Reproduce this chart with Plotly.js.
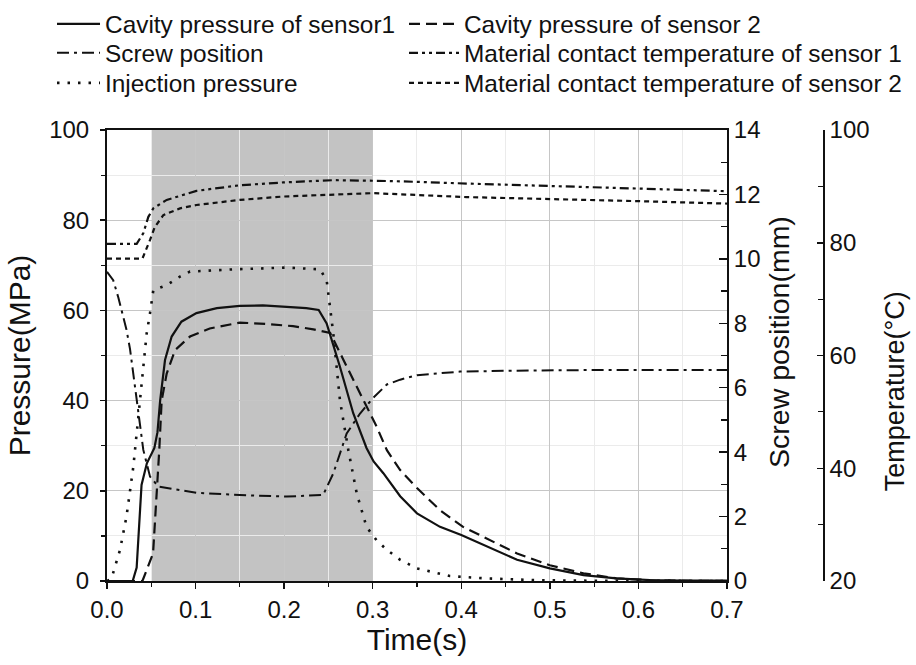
<!DOCTYPE html>
<html>
<head>
<meta charset="utf-8">
<script src="https://cdn.plot.ly/plotly-3.0.1.min.js"></script>
<style>html,body{margin:0;padding:0;background:#fff;}#chart{width:916px;height:665px;}</style>
</head>
<body>
<div id="chart"></div>
<script>
// ---- Data ----
const sensor1Time = [0, 0.029, 0.0335, 0.037, 0.039, 0.045, 0.0535, 0.057, 0.060, 0.0655, 0.073, 0.084, 0.101, 0.124, 0.150, 0.176, 0.199, 0.225, 0.239, 0.248, 0.263, 0.278, 0.293, 0.301, 0.312, 0.331, 0.350, 0.376, 0.400, 0.429, 0.463, 0.500, 0.538, 0.575, 0.613, 0.65, 0.70];
const sensor1Pressure = [0, 0, 3, 15, 21.3, 26.1, 29.5, 33, 40, 49, 54.2, 57.5, 59.4, 60.5, 61, 61.1, 60.8, 60.5, 60.1, 57.1, 47.5, 37.2, 29.5, 26.5, 23.9, 18.8, 15, 12, 10.2, 7.6, 4.7, 2.8, 1.3, 0.6, 0.2, 0.1, 0.1];

const sensor2Time = [0, 0.040, 0.052, 0.056, 0.059, 0.0617, 0.0674, 0.0768, 0.0937, 0.116, 0.150, 0.180, 0.210, 0.233, 0.252, 0.267, 0.289, 0.3045, 0.316, 0.331, 0.350, 0.376, 0.402, 0.432, 0.463, 0.500, 0.538, 0.575, 0.62, 0.70];
const sensor2Pressure = [0, 0, 6.1, 18, 29, 40, 46, 51.2, 54.2, 56, 57.3, 57, 56.5, 55.8, 55, 49, 40.1, 34.2, 29, 24.6, 20.6, 15.7, 12, 9.1, 6.1, 3.5, 1.7, 0.6, 0.1, 0];

const screwTime = [0, 0.007, 0.0128, 0.0166, 0.022, 0.026, 0.0335, 0.041, 0.0486, 0.058, 0.101, 0.150, 0.203, 0.244, 0.2555, 0.2706, 0.2857, 0.30, 0.316, 0.331, 0.35, 0.3986, 0.4625, 0.55, 0.70];
const screwPosition = [9.6, 9.34, 8.8, 8.4, 7.8, 7.2, 5.62, 4.07, 3.24, 2.93, 2.74, 2.67, 2.62, 2.67, 3.34, 4.58, 5.2, 5.67, 6.1, 6.25, 6.39, 6.5, 6.53, 6.55, 6.55];

const injTime = [0, 0.005, 0.0147, 0.022, 0.0297, 0.0373, 0.0448, 0.0486, 0.0523, 0.0674, 0.0824, 0.0937, 0.1426, 0.2029, 0.2405, 0.248, 0.2518, 0.2555, 0.263, 0.2725, 0.282, 0.293, 0.3045, 0.316, 0.331, 0.35, 0.387, 0.425, 0.481, 0.55, 0.70];
const injPressure = [0, 0.5, 6.9, 14.3, 25.3, 40.1, 54.9, 59.4, 64.5, 65.6, 67.5, 68.6, 69.1, 69.5, 69.1, 66.7, 60.1, 54.9, 40.1, 29, 19.4, 12, 9.0, 6.9, 4.7, 2.8, 1.1, 0.6, 0.2, 0.05, 0];

const temp1Time = [0, 0.0335, 0.041, 0.0467, 0.0523, 0.0674, 0.101, 0.150, 0.199, 0.2555, 0.30, 0.331, 0.406, 0.50, 0.594, 0.70];
const temp1Value = [79.8, 79.8, 81.7, 84.6, 86.1, 87.6, 89.2, 90.2, 90.7, 91.1, 91.0, 90.9, 90.5, 90.1, 89.65, 89.15];

const temp2Time = [0, 0.040, 0.0486, 0.054, 0.0636, 0.0824, 0.101, 0.150, 0.199, 0.2555, 0.30, 0.406, 0.50, 0.594, 0.70];
const temp2Value = [77.2, 77.2, 80.5, 82.8, 84.9, 86.1, 86.7, 87.6, 88.2, 88.6, 88.8, 88.1, 87.8, 87.4, 86.95];

const holdingPhase = [0.05, 0.3];   // shaded time window (s)

const names = {
  s1: 'Cavity pressure of sensor1',
  s2: 'Cavity pressure of sensor 2',
  screw: 'Screw position',
  t1: 'Material contact temperature of sensor 1',
  inj: 'Injection pressure',
  t2: 'Material contact temperature of sensor 2'
};
const axisTitles = {x: 'Time(s)', y: 'Pressure(MPa)', y2: 'Screw position(mm)', y3: 'Temperature(°C)'};

// ---- Styling ----
const INK = '#111111';
const FONT = '"Liberation Sans", Arial, Helvetica, sans-serif';

const traces = [
  {x: sensor1Time, y: sensor1Pressure, name: names.s1, yaxis: 'y', legend: 'legend',
   line: {color: INK, width: 2.2}},
  {x: sensor2Time, y: sensor2Pressure, name: names.s2, yaxis: 'y', legend: 'legend2',
   line: {color: INK, width: 2.2, dash: '11px,6px'}},
  {x: screwTime, y: screwPosition, name: names.screw, yaxis: 'y2', legend: 'legend3',
   line: {color: INK, width: 2, dash: '12px,5px,3px,5px'}},
  {x: temp1Time, y: temp1Value, name: names.t1, yaxis: 'y3', legend: 'legend4',
   line: {color: INK, width: 2.2, dash: '9px,4px,3px,4px,3px,4px'}},
  {x: injTime, y: injPressure, name: names.inj, yaxis: 'y', legend: 'legend5',
   line: {color: INK, width: 2.6, dash: '2.5px,8px'}},
  {x: temp2Time, y: temp2Value, name: names.t2, yaxis: 'y3', legend: 'legend6',
   line: {color: INK, width: 2.2, dash: '5px,4px'}}
].map(t => Object.assign({type: 'scatter', mode: 'lines', xaxis: 'x', hoverinfo: 'skip'}, t));

const majorGrid = '#c6c6c6';
const minorGrid = '#ebebeb';

function legendAt(x, y, itemwidth) {
  return {x: x, y: y, xanchor: 'left', yanchor: 'middle', orientation: 'v',
          font: {size: 24.4}, itemwidth: itemwidth, bgcolor: 'rgba(0,0,0,0)', borderwidth: 0};
}
const col1X = -0.0768, col2X = 0.4148;
const rowY = [1.235, 1.1707, 1.1042];

const layout = {
  width: 916, height: 665,
  margin: {l: 107, r: 93, t: 130, b: 84, autoexpand: false},
  paper_bgcolor: '#ffffff', plot_bgcolor: '#ffffff',
  font: {family: FONT, color: INK, size: 24},
  showlegend: true,
  xaxis: {
    domain: [0, 0.8659], range: [0, 0.7], tick0: 0, dtick: 0.1, tickformat: '.1f',
    ticks: 'outside', ticklen: 6, tickwidth: 1.5, tickcolor: INK,
    showline: true, linewidth: 2, linecolor: INK, mirror: true,
    showgrid: true, gridcolor: majorGrid, gridwidth: 1, zeroline: false,
    minor: {dtick: 0.05, ticks: 'outside', ticklen: 4, tickwidth: 1.2, tickcolor: INK, showgrid: true, gridcolor: minorGrid},
    tickfont: {size: 24},
    title: {text: axisTitles.x, font: {size: 30}, standoff: 6}
  },
  yaxis: {
    range: [0, 100], tick0: 0, dtick: 20,
    ticks: 'outside', ticklen: 5, tickwidth: 1.5, tickcolor: INK, ticklabelstandoff: 6,
    showline: true, linewidth: 2, linecolor: INK,
    showgrid: true, gridcolor: majorGrid, zeroline: false,
    minor: {dtick: 10, ticks: 'outside', ticklen: 4, tickwidth: 1.2, tickcolor: INK, showgrid: true, gridcolor: minorGrid},
    tickfont: {size: 24},
    title: {text: axisTitles.y, font: {size: 30}, standoff: 10}
  },
  yaxis2: {
    overlaying: 'y', side: 'right', anchor: 'x',
    range: [0, 14], tick0: 0, dtick: 2,
    ticks: 'inside', ticklen: 8, tickwidth: 1.5, tickcolor: INK,
    showline: true, linewidth: 2, linecolor: INK,
    showgrid: false, zeroline: false,
    minor: {dtick: 1, ticks: 'inside', ticklen: 6, tickwidth: 1.2, tickcolor: INK},
    tickfont: {size: 24}
  },
  yaxis3: {
    overlaying: 'y', side: 'right', anchor: 'free', position: 1,
    range: [20, 100], tick0: 20, dtick: 20,
    ticks: 'inside', ticklen: 6, tickwidth: 1.5, tickcolor: INK,
    showline: true, linewidth: 1.8, linecolor: INK,
    showgrid: false, zeroline: false,
    minor: {dtick: 10, ticks: 'inside', ticklen: 5, tickwidth: 1.2, tickcolor: INK},
    tickfont: {size: 24}
  },
  legend:  legendAt(col1X, rowY[0], 43),
  legend2: legendAt(col2X, rowY[0], 50),
  legend3: legendAt(col1X, rowY[1], 43),
  legend4: legendAt(col2X, rowY[1], 50),
  legend5: legendAt(col1X, rowY[2], 43),
  legend6: legendAt(col2X, rowY[2], 50),
  annotations: [
    {text: axisTitles.y2, xref: 'paper', yref: 'paper', x: 0.9385, y: 0.53,
     xanchor: 'center', yanchor: 'middle', textangle: -90, showarrow: false, font: {size: 28.5}},
    {text: axisTitles.y3, xref: 'paper', yref: 'paper', x: 1.1006, y: 0.421,
     xanchor: 'center', yanchor: 'middle', textangle: -90, showarrow: false, font: {size: 27}}
  ],
  shapes: [{
    type: 'rect', xref: 'x', yref: 'paper',
    x0: holdingPhase[0], x1: holdingPhase[1], y0: 0, y1: 1,
    fillcolor: '#c3c3c3', line: {width: 0}, layer: 'below'
  }]
};

Plotly.newPlot('chart', traces, layout, {staticPlot: true, displayModeBar: false});
</script>
</body>
</html>
